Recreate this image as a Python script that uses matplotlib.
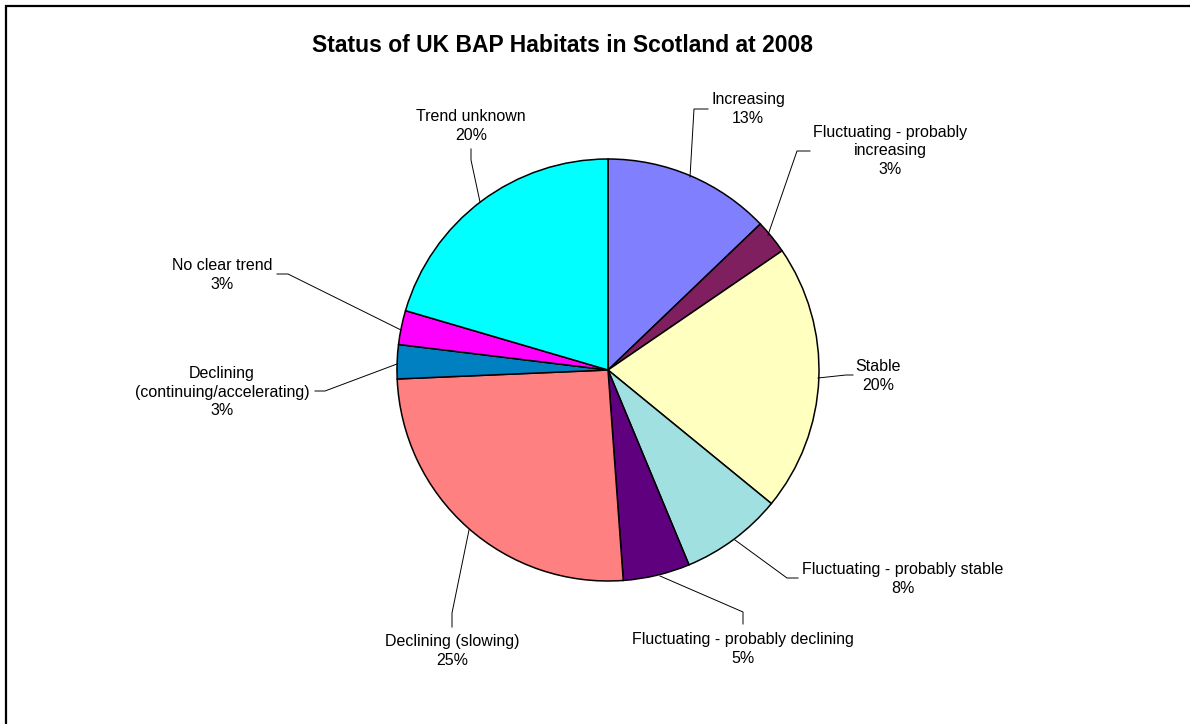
import matplotlib.pyplot as plt
from matplotlib.patches import Rectangle

plt.rcParams['font.family'] = ['Liberation Sans', 'DejaVu Sans']

# dados do grafico (fatias em sentido horario a partir do topo)
categorias = ['Increasing', 'Fluctuating - probably\nincreasing', 'Stable',
              'Fluctuating - probably stable', 'Fluctuating - probably declining',
              'Declining (slowing)', 'Declining\n(continuing/accelerating)',
              'No clear trend', 'Trend unknown']
valores = [12.8, 2.6, 20.4, 7.8, 5.1, 25.4, 2.6, 2.6, 20.4]
cores = ['#8080FF', '#7F1F5F', '#FFFFC0', '#A0E0E0', '#5F007F',
         '#FF8080', '#0080C0', '#FF00FF', '#00FFFF']

# posicao dos rotulos (pixels, origem no canto superior esquerdo)
pos_texto = [(748, 109), (890, 151), (878, 376), (903, 579), (743, 649),
             (452, 651), (222, 392), (222, 275), (471, 126)]
# pontos das linhas guia: borda da fatia -> cotovelo -> fim
guias = [
    [(690, 177), (694, 109), (708, 109)],
    [(768, 235), (797, 151), (810, 151)],
    [(818, 378), (846, 375), (853, 375)],
    [(735, 540), (787, 578), (798, 578)],
    [(660, 576), (743, 612), (743, 624)],
    [(469, 530), (452, 613), (452, 627)],
    [(397, 364), (325, 391), (315, 391)],
    [(401, 330), (288, 274), (277, 274)],
    [(480, 202), (471, 160), (471, 149)],
]

W, H = 1190, 724
fig = plt.figure(figsize=(W / 100, H / 100), dpi=100)
ax = fig.add_axes([0, 0, 1, 1])

ax.add_patch(Rectangle((6, -10), W + 20, H - 6 + 10, fill=False,
                       edgecolor='black', linewidth=1.6))

ax.pie(valores, colors=cores, startangle=90, counterclock=False,
       center=(608, H - 370), radius=211, frame=True,
       wedgeprops={'edgecolor': 'black', 'linewidth': 1.1})
ax.set_xlim(0, W)
ax.set_ylim(0, H)
ax.set_aspect('equal')
ax.axis('off')

total = sum(valores)
for nome, v, (tx, ty), pts in zip(categorias, valores, pos_texto, guias):
    ax.text(tx, H - ty, f'{nome}\n{v / total * 100:.0f}%', ha='center', va='center',
            fontsize=11.5, linespacing=1.32)
    ax.plot([p[0] for p in pts], [H - p[1] for p in pts], color='black', linewidth=0.7)

ax.text(562, H - 45, 'Status of UK BAP Habitats in Scotland at 2008', ha='center',
        va='center', fontsize=16.5, fontweight='bold')

fig.savefig('out.png', dpi=100)
print("O grafico foi gerado")
